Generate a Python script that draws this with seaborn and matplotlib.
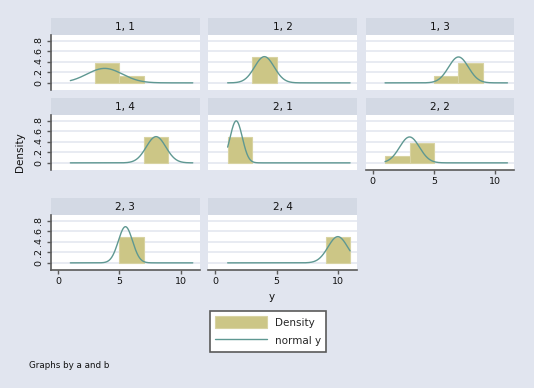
import numpy as np
import pandas as pd
import seaborn as sns
import matplotlib
matplotlib.use("Agg")
import matplotlib.pyplot as plt
from matplotlib.patches import Patch
from matplotlib.lines import Line2D

# ---------------- data ----------------
panel_labels = ["1, 1", "1, 2", "1, 3", "1, 4", "2, 1", "2, 2", "2, 3", "2, 4"]
bin_edges = [1, 3, 5, 7, 9, 11]
bin_centers = [2, 4, 6, 8, 10]
dens_1_1 = [0, 0.375, 0.125, 0, 0]
dens_1_2 = [0, 0.5, 0, 0, 0]
dens_1_3 = [0, 0, 0.125, 0.375, 0]
dens_1_4 = [0, 0, 0, 0.5, 0]
dens_2_1 = [0.5, 0, 0, 0, 0]
dens_2_2 = [0.125, 0.375, 0, 0, 0]
dens_2_3 = [0, 0, 0.5, 0, 0]
dens_2_4 = [0, 0, 0, 0, 0.5]
densities = [dens_1_1, dens_1_2, dens_1_3, dens_1_4,
             dens_2_1, dens_2_2, dens_2_3, dens_2_4]
# normal overlay parameters (mean, sd) per panel
norm_mean = [3.8, 4.0, 7.0, 8.0, 1.7, 3.0, 5.5, 10.0]
norm_sd = [1.45, 0.80, 0.81, 0.80, 0.50, 0.81, 0.58, 0.80]
y_range = [1, 11]
y_ticks = [0, 0.2, 0.4, 0.6, 0.8]
y_ticklabels = ["0", ".2", ".4", ".6", ".8"]
x_ticks = [0, 5, 10]
x_ticklabels = ["0", "5", "10"]

# ---------------- style ----------------
BG = "#E1E5EF"
STRIP = "#D3D9E4"
BAR = "#CCC686"
EDGE = "#D8D3A2"
LINE = "#5F9892"
GRID = "#E6E9F1"
AXIS = "#5A5A5A"

sns.set_style("white")
plt.rcParams["font.family"] = ["DejaVu Sans"]

W, H = 534, 388
fig = plt.figure(figsize=(W / 100, H / 100), dpi=100, facecolor=BG)

col_left = [51.0, 208.3, 365.7]
panel_w = 148.5
strip_top = [18.3, 98.3, 198.3]
strip_h = 16.7
plot_h = 54.7

def fr(L, T, w, h):
    return [L / W, 1 - (T + h) / H, w / W, h / H]

# bottom-most panel in each column shows x axis
show_x = {"2, 2", "2, 3", "2, 4"}

for i, lab in enumerate(panel_labels):
    r, c = divmod(i, 3)
    L = col_left[c]
    T = strip_top[r]
    sax = fig.add_axes(fr(L, T, panel_w, strip_h))
    sax.set_facecolor(STRIP)
    sax.set_xticks([]); sax.set_yticks([])
    for s in sax.spines.values():
        s.set_visible(False)
    sax.text(0.5, 0.45, lab, ha="center", va="center", fontsize=7.5,
             color="#111111", transform=sax.transAxes)

    ax = fig.add_axes(fr(L, T + strip_h, panel_w, plot_h))
    ax.set_facecolor("white")
    sns.histplot(x=bin_centers, weights=densities[i], bins=bin_edges,
                 stat="count", ax=ax, color=BAR, alpha=1,
                 edgecolor=EDGE, linewidth=0.8, zorder=2)
    for p in ax.patches:
        if p.get_height() == 0:
            p.set_visible(False)
    xs = np.linspace(y_range[0], y_range[1], 300)
    m, sd = norm_mean[i], norm_sd[i]
    pdf = np.exp(-0.5 * ((xs - m) / sd) ** 2) / (sd * np.sqrt(2 * np.pi))
    sns.lineplot(x=xs, y=pdf, ax=ax, color=LINE, linewidth=1.0, zorder=3)

    ax.set_xlim(-0.58, 11.55)
    ax.set_ylim(-0.13, 0.91)
    ax.set_xlabel("")
    ax.set_ylabel("")
    ax.set_yticks(y_ticks)
    ax.set_xticks(x_ticks)
    ax.grid(axis="y", color=GRID, linewidth=1.3, zorder=0)
    ax.grid(axis="x", visible=False)
    ax.set_axisbelow(True)
    for s in ax.spines.values():
        s.set_visible(False)

    if c == 0:
        ax.spines["left"].set_visible(True)
        ax.spines["left"].set_color(AXIS)
        ax.spines["left"].set_linewidth(1.2)
        ax.set_yticklabels(y_ticklabels, rotation=90, va="center")
        ax.tick_params(axis="y", left=True, length=3, width=1, color=AXIS,
                       labelsize=6.8, pad=2.5, labelcolor="#111111")
    else:
        ax.tick_params(axis="y", left=False, labelleft=False)

    if lab in show_x:
        ax.spines["bottom"].set_visible(True)
        ax.spines["bottom"].set_color(AXIS)
        ax.spines["bottom"].set_linewidth(1.2)
        ax.set_xticklabels(x_ticklabels)
        ax.tick_params(axis="x", bottom=True, length=3, width=1, color=AXIS,
                       labelsize=6.8, pad=2.5, labelcolor="#111111")
    else:
        ax.tick_params(axis="x", bottom=False, labelbottom=False)

fig.text(20 / W, 1 - 152 / H, "Density", rotation=90, ha="center",
         va="center", fontsize=7.5, color="#111111")
fig.text(272 / W, 1 - 297 / H, "y", ha="center", va="center",
         fontsize=7.5, color="#111111")
fig.text(28.7 / W, 1 - 365 / H, "Graphs by a and b", ha="left",
         va="center", fontsize=6.3, color="#111111")

handles = [Patch(facecolor=BAR, edgecolor=EDGE, linewidth=0.8),
           Line2D([0], [0], color=LINE, linewidth=1.0)]
leg = fig.legend(handles, ["Density", "normal y"], loc="upper center",
                 bbox_to_anchor=(268 / W, 1 - 310.7 / H), fontsize=7.5,
                 frameon=True, fancybox=False, handlelength=5.0,
                 handleheight=1.35, labelspacing=0.6, handletextpad=0.7,
                 borderpad=0.55, borderaxespad=0)
leg.get_frame().set_facecolor("white")
leg.get_frame().set_edgecolor(AXIS)
leg.get_frame().set_linewidth(1.2)
leg.get_frame().set_alpha(1)

fig.savefig("out.png", dpi=100, facecolor=BG)
